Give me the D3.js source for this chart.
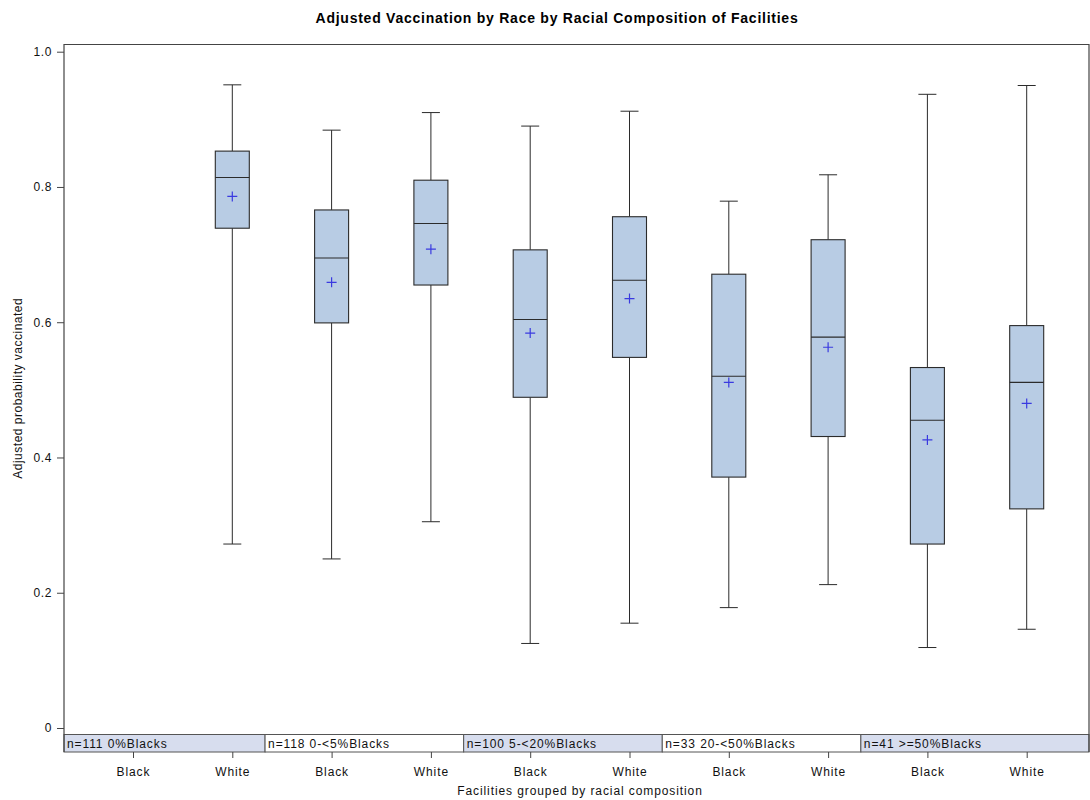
<!DOCTYPE html>
<html>
<head>
<meta charset="utf-8">
<script src="https://cdn.jsdelivr.net/npm/d3@7"></script>
<style>
  body { margin: 0; background: #fff; }
  svg { display: block; font-family: "Liberation Sans", Arial, sans-serif; }
</style>
</head>
<body>
<svg id="chart" width="1090" height="800"></svg>
<script>
// Facility groups (by share of Black residents) and their facility counts
const groups = ["0%Blacks", "0-<5%Blacks", "5-<20%Blacks", "20-<50%Blacks", ">=50%Blacks"];
const groupN = [111, 118, 100, 33, 41];
const races = ["Black", "White"];

// Box statistics per group, ordered Black then White (null = no data)
const whiskerHigh = [[null, 0.951], [0.884, 0.910], [0.890, 0.912], [0.779, 0.818], [0.937, 0.950]];
const q3          = [[null, 0.853], [0.766, 0.810], [0.707, 0.756], [0.671, 0.722], [0.533, 0.595]];
const median      = [[null, 0.814], [0.695, 0.746], [0.604, 0.662], [0.520, 0.578], [0.455, 0.511]];
const mean        = [[null, 0.786], [0.659, 0.708], [0.584, 0.635], [0.511, 0.563], [0.426, 0.480]];
const q1          = [[null, 0.739], [0.599, 0.655], [0.489, 0.548], [0.371, 0.431], [0.272, 0.324]];
const whiskerLow  = [[null, 0.272], [0.250, 0.305], [0.125, 0.155], [0.178, 0.212], [0.119, 0.146]];

const yTicks = [0, 0.2, 0.4, 0.6, 0.8, 1.0];

const svg = d3.select("#chart");
const frame = { left: 64, right: 1089, top: 44.5, bottom: 752 };
const bandTop = 734.5;

// one slot per group x race
const slots = [];
groups.forEach((g, gi) => races.forEach((r, ri) => slots.push({ key: gi + "|" + r, gi, ri, race: r })));

const x = d3.scalePoint().domain(slots.map(s => s.key)).range([133, 1026.7]);
const y = d3.scaleLinear().domain([0, 1]).range([728, 51.7]);
const step = x.step();

// group bands along the bottom of the plot
const bandEdges = groups.map((g, gi) => {
  const left = gi === 0 ? frame.left : x(gi + "|Black") - step * 0.67;
  const right = gi === groups.length - 1 ? frame.right : x((gi + 1) + "|Black") - step * 0.67;
  return { gi, left, right };
});

const bands = svg.append("g");
bands.selectAll("rect").data(bandEdges).join("rect")
  .attr("x", d => d.left).attr("y", bandTop)
  .attr("width", d => d.right - d.left).attr("height", frame.bottom - bandTop)
  .attr("fill", d => d.gi % 2 === 0 ? "#d7ddee" : "#ffffff")
  .attr("stroke", "#555").attr("stroke-width", 1);
bands.selectAll("text").data(bandEdges).join("text")
  .attr("x", d => d.left + 3).attr("y", frame.bottom - 4.5)
  .attr("font-size", 12).attr("letter-spacing", 0.9).attr("fill", "#111")
  .text(d => "n=" + groupN[d.gi] + " " + groups[d.gi]);

// plot frame
svg.append("path")
  .attr("d", `M${frame.left},${frame.bottom}V${frame.top}H${frame.right}V${frame.bottom}`)
  .attr("fill", "none").attr("stroke", "#444").attr("stroke-width", 1.2);

// y axis
const yAxis = svg.append("g").attr("transform", `translate(${frame.left},0)`)
  .call(d3.axisLeft(y).tickValues(yTicks).tickSize(7).tickPadding(5)
    .tickFormat(d => d === 0 ? "0" : d3.format(".1f")(d)));
yAxis.select(".domain").remove();
yAxis.selectAll("line").attr("stroke", "#444");
yAxis.selectAll("text").attr("font-size", 12).attr("letter-spacing", 0.6).attr("fill", "#111")
  .attr("font-family", "'Liberation Sans', Arial, sans-serif");

// x axis
const xAxis = svg.append("g").attr("transform", `translate(0,${frame.bottom})`)
  .call(d3.axisBottom(x).tickSize(6).tickPadding(9).tickFormat(k => k.split("|")[1]));
xAxis.select(".domain").remove();
xAxis.selectAll("line").attr("stroke", "#444");
xAxis.selectAll("text").attr("font-size", 12).attr("letter-spacing", 0.9).attr("fill", "#111")
  .attr("font-family", "'Liberation Sans', Arial, sans-serif");

// boxes
const boxW = 34, capW = 18;
const stats = slots.filter(s => q1[s.gi][s.ri] !== null).map(s => ({
  cx: x(s.key),
  hi: whiskerHigh[s.gi][s.ri], q3: q3[s.gi][s.ri], med: median[s.gi][s.ri],
  mean: mean[s.gi][s.ri], q1: q1[s.gi][s.ri], lo: whiskerLow[s.gi][s.ri]
}));

const box = svg.append("g").selectAll("g").data(stats).join("g");
const stroke = "#2b2b2b";
box.append("line").attr("x1", d => d.cx).attr("x2", d => d.cx)
  .attr("y1", d => y(d.hi)).attr("y2", d => y(d.q3)).attr("stroke", stroke);
box.append("line").attr("x1", d => d.cx).attr("x2", d => d.cx)
  .attr("y1", d => y(d.q1)).attr("y2", d => y(d.lo)).attr("stroke", stroke);
box.append("line").attr("x1", d => d.cx - capW / 2).attr("x2", d => d.cx + capW / 2)
  .attr("y1", d => y(d.hi)).attr("y2", d => y(d.hi)).attr("stroke", stroke);
box.append("line").attr("x1", d => d.cx - capW / 2).attr("x2", d => d.cx + capW / 2)
  .attr("y1", d => y(d.lo)).attr("y2", d => y(d.lo)).attr("stroke", stroke);
box.append("rect").attr("x", d => d.cx - boxW / 2).attr("width", boxW)
  .attr("y", d => y(d.q3)).attr("height", d => y(d.q1) - y(d.q3))
  .attr("fill", "#b8cce4").attr("stroke", stroke).attr("stroke-width", 1.1);
box.append("line").attr("x1", d => d.cx - boxW / 2).attr("x2", d => d.cx + boxW / 2)
  .attr("y1", d => y(d.med)).attr("y2", d => y(d.med)).attr("stroke", stroke).attr("stroke-width", 1.1);
// mean markers
box.append("path")
  .attr("d", d => `M${d.cx - 5},${y(d.mean)}H${d.cx + 5}M${d.cx},${y(d.mean) - 5}V${y(d.mean) + 5}`)
  .attr("stroke", "#3a3ae0").attr("stroke-width", 1.2);

// titles
svg.append("text").attr("x", 557).attr("y", 23).attr("text-anchor", "middle")
  .attr("font-size", 14).attr("letter-spacing", 0.75).attr("font-weight", "bold").attr("fill", "#000")
  .text("Adjusted Vaccination by Race by Racial Composition of Facilities");
svg.append("text").attr("x", 580).attr("y", 795).attr("text-anchor", "middle")
  .attr("font-size", 12).attr("letter-spacing", 0.9).attr("fill", "#111")
  .text("Facilities grouped by racial composition");
svg.append("text").attr("transform", `translate(22,${(frame.top + frame.bottom) / 2 - 10}) rotate(-90)`)
  .attr("text-anchor", "middle").attr("font-size", 12).attr("letter-spacing", 0.5).attr("fill", "#111")
  .text("Adjusted probability vaccinated");
</script>
</body>
</html>
